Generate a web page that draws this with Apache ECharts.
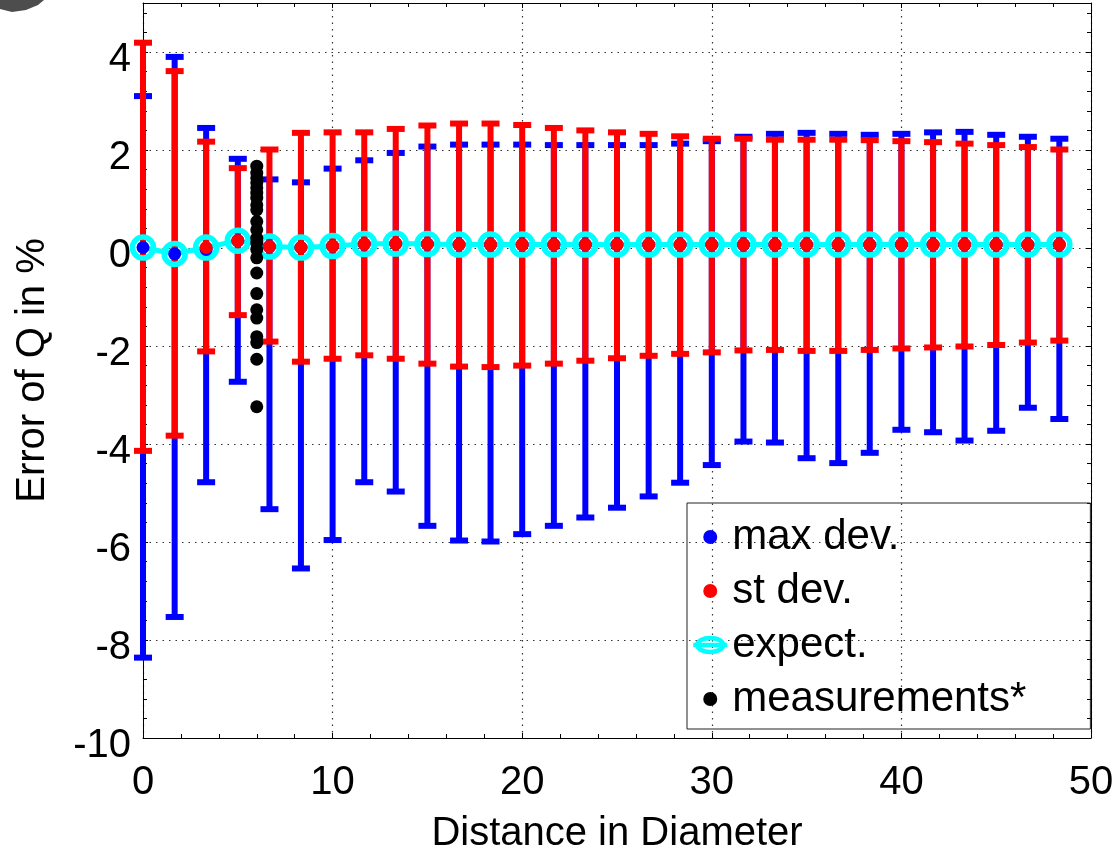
<!DOCTYPE html>
<html>
<head>
<meta charset="utf-8">
<title>Error of Q vs distance</title>
<script src="https://cdn.jsdelivr.net/npm/echarts@6/dist/echarts.min.js"></script>
<style>
  html, body { margin: 0; padding: 0; background: #fff; }
  #chart { width: 1115px; height: 850px; }
</style>
</head>
<body>
<div id="chart"></div>
<script>
// Distance from the disturbance, in pipe diameters
const distance = [0, 1.67, 3.33, 5, 6.67, 8.33, 10, 11.67, 13.33, 15,
  16.67, 18.33, 20, 21.67, 23.33, 25, 26.67, 28.33, 30, 31.67,
  33.33, 35, 36.67, 38.33, 40, 41.67, 43.33, 45, 46.67, 48.33];

// Maximum deviation band (upper / lower), %
const maxDevHigh = [3.10, 3.90, 2.45, 1.82, 1.40, 1.34, 1.62, 1.79, 1.94, 2.07,
  2.11, 2.11, 2.11, 2.10, 2.10, 2.10, 2.10, 2.13, 2.18, 2.27,
  2.33, 2.35, 2.33, 2.31, 2.33, 2.36, 2.37, 2.31, 2.27, 2.23];
const maxDevLow = [-8.36, -7.53, -4.78, -2.73, -5.33, -6.54, -5.96, -4.78, -4.97, -5.67,
  -5.97, -5.99, -5.84, -5.67, -5.50, -5.30, -5.07, -4.79, -4.43, -3.95,
  -3.97, -4.29, -4.39, -4.18, -3.71, -3.76, -3.93, -3.73, -3.26, -3.49];
const maxDevMid = [0.01, -0.12, -0.03, 0.15, 0.03, 0.01, 0.04, 0.08, 0.09, 0.08,
  0.07, 0.07, 0.07, 0.07, 0.07, 0.07, 0.07, 0.07, 0.07, 0.07,
  0.07, 0.07, 0.07, 0.07, 0.07, 0.07, 0.07, 0.07, 0.07, 0.07];

// Standard deviation band (upper / lower), %
const stDevHigh = [4.19, 3.61, 2.17, 1.63, 2.01, 2.35, 2.36, 2.36, 2.43, 2.50,
  2.54, 2.54, 2.51, 2.45, 2.40, 2.36, 2.33, 2.28, 2.23, 2.23,
  2.21, 2.21, 2.21, 2.20, 2.18, 2.16, 2.13, 2.10, 2.06, 2.01];
const stDevLow = [-4.14, -3.83, -2.11, -1.37, -1.91, -2.32, -2.26, -2.19, -2.26, -2.36,
  -2.42, -2.43, -2.40, -2.36, -2.30, -2.25, -2.20, -2.16, -2.13, -2.09,
  -2.08, -2.10, -2.10, -2.08, -2.05, -2.03, -2.01, -1.98, -1.93, -1.89];
const stDevMid = [null, null, 0.01, 0.15, 0.03, 0.01, 0.04, 0.08, 0.09, 0.08,
  0.07, 0.07, 0.07, 0.07, 0.07, 0.07, 0.07, 0.07, 0.07, 0.07,
  0.07, 0.07, 0.07, 0.07, 0.07, 0.07, 0.07, 0.07, 0.07, 0.07];

// Expected error, %
const expected = [0.01, -0.12, 0.01, 0.15, 0.03, 0.01, 0.04, 0.08, 0.09, 0.08,
  0.07, 0.07, 0.07, 0.07, 0.07, 0.07, 0.07, 0.07, 0.07, 0.07,
  0.07, 0.07, 0.07, 0.07, 0.07, 0.07, 0.07, 0.07, 0.07, 0.07];

// Measured errors at 6 D
const measX = 6;
const measY = [1.67, 1.53, 1.43, 1.33, 1.23, 1.12, 1.02, 0.88, 0.78, 0.54,
  0.37, 0.20, 0.10, -0.03, -0.20, -0.51, -0.93, -1.26, -1.43, -1.81,
  -1.93, -2.27, -3.24];

const FONT = '"Liberation Sans", Arial, Helvetica, sans-serif';
const BLUE = '#0000ff', RED = '#ff0000', CYAN = '#00ffff', BLACK = '#000000';

function errorBars(name, low, high, color, z) {
  return {
    type: 'custom',
    name: name,
    z: z,
    clip: false,
    itemStyle: { color: color },
    data: distance.map((x, i) => [x, low[i], high[i]]),
    encode: { x: 0, y: [1, 2] },
    renderItem: function (params, api) {
      const x = api.value(0);
      const pLow = api.coord([x, api.value(1)]);
      const pHigh = api.coord([x, api.value(2)]);
      const half = 9;
      const style = { stroke: color, lineWidth: 6, fill: null };
      return {
        type: 'group',
        children: [
          { type: 'line', shape: { x1: pLow[0], y1: pLow[1], x2: pHigh[0], y2: pHigh[1] }, style: style },
          { type: 'line', shape: { x1: pLow[0] - half, y1: pLow[1], x2: pLow[0] + half, y2: pLow[1] }, style: style },
          { type: 'line', shape: { x1: pHigh[0] - half, y1: pHigh[1], x2: pHigh[0] + half, y2: pHigh[1] }, style: style }
        ]
      };
    }
  };
}

const pair = (xs, ys) => xs.map((x, i) => [x, ys[i]]);

const boxAxisX = {
  type: 'value', min: 0, max: 50, interval: 10,
  axisLine: { show: true, onZero: false, lineStyle: { color: BLACK, width: 1 } },
  axisTick: { show: true, inside: true, length: 5, lineStyle: { color: BLACK } },
  minorTick: { show: true, splitNumber: 5, length: 4, lineStyle: { color: BLACK } }
};
const boxAxisY = {
  type: 'value', min: -10, max: 5, interval: 2,
  axisLine: { show: true, onZero: false, lineStyle: { color: BLACK, width: 1 } },
  axisTick: { show: true, inside: true, length: 5, lineStyle: { color: BLACK } },
  minorTick: { show: true, splitNumber: 5, length: 4, lineStyle: { color: BLACK } }
};
const dotted = { show: true, lineStyle: { color: '#333', width: 1.2, type: [1.5, 5] } };

const chart = echarts.init(document.getElementById('chart'), null, { renderer: 'canvas' });
chart.setOption({
  animation: false,
  backgroundColor: '#ffffff',
  textStyle: { fontFamily: FONT },
  grid: { left: 143, right: 24, top: 3, bottom: 112, containLabel: false, outerBoundsMode: 'none' },
  xAxis: [
    Object.assign({}, boxAxisX, {
      position: 'bottom',
      name: 'Distance in Diameter',
      nameLocation: 'middle',
      nameGap: 76,
      nameTextStyle: { fontSize: 40, color: BLACK, fontFamily: FONT },
      axisLabel: { show: true, fontSize: 40, color: BLACK, margin: 25, fontFamily: FONT },
      splitLine: dotted
    }),
    Object.assign({}, boxAxisX, {
      position: 'top',
      axisLabel: { show: false },
      splitLine: { show: false }
    })
  ],
  yAxis: [
    Object.assign({}, boxAxisY, {
      position: 'left',
      name: 'Error of Q in %',
      nameLocation: 'middle',
      nameGap: 90,
      nameTextStyle: { fontSize: 40, color: BLACK, fontFamily: FONT },
      axisLabel: { show: true, fontSize: 40, color: BLACK, margin: 12, showMaxLabel: false,
        verticalAlign: 'top', lineHeight: 16, fontFamily: FONT },
      splitLine: dotted
    }),
    Object.assign({}, boxAxisY, {
      position: 'right',
      axisLabel: { show: false },
      splitLine: { show: false }
    })
  ],
  legend: {
    orient: 'vertical',
    left: 687,
    top: 503,
    padding: [13, 64, 9, 4],
    itemGap: 12,
    itemWidth: 34,
    itemHeight: 14,
    borderColor: '#222',
    borderWidth: 1,
    backgroundColor: 'transparent',
    textStyle: { fontSize: 42, color: BLACK, fontFamily: FONT, lineHeight: 42 },
    data: [
      { name: 'max dev.', icon: 'circle', itemStyle: { color: BLUE } },
      { name: 'st dev.', icon: 'circle', itemStyle: { color: RED } },
      { name: 'expect.',
        icon: 'path://M0,7L34,7M4,7A13,7,0,1,1,30,7A13,7,0,1,1,4,7',
        itemStyle: { color: 'rgba(0,0,0,0)', borderColor: CYAN, borderWidth: 4.5 } },
      { name: 'measurements*', icon: 'circle', itemStyle: { color: BLACK } }
    ]
  },
  graphic: [{
    type: 'polygon',
    shape: { points: [[0, 0], [44, 0], [38, 5], [26, 10], [12, 12], [0, 9]] },
    style: { fill: '#4d4d4d' },
    silent: true
  }],
  series: [
    errorBars('max dev.', maxDevLow, maxDevHigh, BLUE, 2),
    errorBars('st dev.', stDevLow, stDevHigh, RED, 3),
    {
      type: 'line',
      name: 'expect.',
      z: 4,
      data: pair(distance, expected),
      symbol: 'circle',
      symbolSize: 21,
      lineStyle: { color: CYAN, width: 5 },
      itemStyle: { color: 'rgba(0,0,0,0)', borderColor: CYAN, borderWidth: 5.5, opacity: 1 }
    },
    {
      type: 'scatter',
      name: 'max dev.',
      z: 5,
      data: pair(distance, maxDevMid),
      symbol: 'circle',
      symbolSize: 13,
      itemStyle: { color: BLUE, opacity: 1 }
    },
    {
      type: 'scatter',
      name: 'st dev.',
      z: 6,
      data: pair(distance, stDevMid),
      symbol: 'circle',
      symbolSize: 13,
      itemStyle: { color: RED, opacity: 1 }
    },
    {
      type: 'scatter',
      name: 'measurements*',
      z: 7,
      data: measY.map(y => [measX, y]),
      symbol: 'circle',
      symbolSize: 13,
      itemStyle: { color: BLACK, opacity: 1 }
    }
  ]
});
</script>
</body>
</html>
